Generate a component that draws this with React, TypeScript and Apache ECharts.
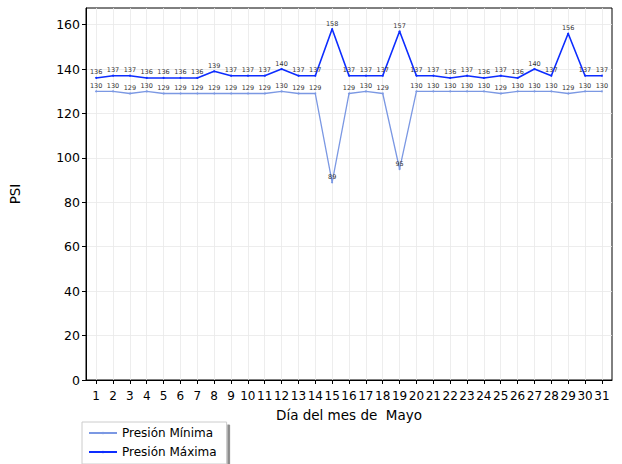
import React, { useEffect, useRef } from "react";
import * as echarts from "echarts";

const days = Array.from({ length: 31 }, (_, i) => i + 1);
const presionMaxima = [136, 137, 137, 136, 136, 136, 136, 139, 137, 137, 137, 140, 137, 137, 158, 137, 137, 137, 157, 137, 137, 136, 137, 136, 137, 136, 140, 137, 156, 137, 137];
const presionMinima = [130, 130, 129, 130, 129, 129, 129, 129, 129, 129, 129, 130, 129, 129, 89, 129, 130, 129, 95, 130, 130, 130, 130, 130, 129, 130, 130, 130, 129, 130, 130];
const yTicks = [0, 20, 40, 60, 80, 100, 120, 140, 160];

export default function App() {
  const ref = useRef<HTMLDivElement>(null);
  useEffect(() => {
    const chart = echarts.init(ref.current!, null, { renderer: "svg" });
    const font = "DejaVu Sans";
    const mk = (vals: number[]) => days.map((d, i) => [d, vals[i]]);
    const labelCfg = {
      show: true,
      position: "top" as const,
      distance: 1,
      fontSize: 6.5,
      color: "#333",
      fontFamily: font,
    };
    chart.setOption({
      animation: false,
      textStyle: { fontFamily: font },
      grid: { left: 86, right: 10, top: 8, bottom: 84, show: true, borderColor: "#000", borderWidth: 1, backgroundColor: "transparent" },
      xAxis: {
        type: "value",
        min: 0.4,
        max: 31.6,
        name: "Día del mes de  Mayo",
        nameLocation: "middle",
        nameGap: 28,
        nameTextStyle: { fontSize: 13.5, color: "#000", fontFamily: font },
        axisLine: { show: true, lineStyle: { color: "#000", width: 1 } },
        axisTick: { show: true, length: 4, inside: false, customValues: days, lineStyle: { color: "#000" } },
        axisLabel: { customValues: days, fontSize: 12, color: "#000", margin: 10, fontFamily: font, hideOverlap: false },
        splitLine: { show: true, lineStyle: { color: "#e8e8e8", width: 0.8 } },
      },
      yAxis: {
        type: "value",
        min: 0,
        max: 167.5,
        name: "PSI",
        nameLocation: "middle",
        nameGap: 64,
        nameRotate: 90,
        nameTextStyle: { fontSize: 13.5, color: "#000", fontFamily: font },
        axisLine: { show: true, lineStyle: { color: "#000", width: 1 } },
        axisTick: { show: true, length: 4, customValues: yTicks, lineStyle: { color: "#000" } },
        axisLabel: { customValues: yTicks, fontSize: 12.5, color: "#000", margin: 6, fontFamily: font },
        splitLine: { show: true, lineStyle: { color: "#e8e8e8", width: 0.8 } },
      },
      legend: {
        orient: "vertical",
        left: 82,
        top: 422,
        itemWidth: 28,
        itemHeight: 3,
        itemGap: 7,
        padding: [5, 10, 6, 6],
        backgroundColor: "#fff",
        borderColor: "#ccc",
        borderWidth: 1,
        borderRadius: 0,
        shadowColor: "rgba(0,0,0,0.45)",
        shadowOffsetX: 3,
        shadowOffsetY: 3,
        shadowBlur: 0,
        textStyle: { fontSize: 12, color: "#000", fontFamily: font },
        data: ["Presión Mínima", "Presión Máxima"],
      },
      series: [
        {
          name: "Presión Mínima",
          type: "line",
          data: mk(presionMinima),
          color: "#7b98e3",
          symbol: "circle",
          symbolSize: 2,
          lineStyle: { width: 1.3, color: "#7b98e3" },
          itemStyle: { color: "#7b98e3" },
          label: labelCfg,
          z: 2,
        },
        {
          name: "Presión Máxima",
          type: "line",
          data: mk(presionMaxima),
          color: "#0d2dff",
          symbol: "circle",
          symbolSize: 2,
          lineStyle: { width: 1.6, color: "#0d2dff" },
          itemStyle: { color: "#0d2dff" },
          label: labelCfg,
          z: 3,
        },
      ],
    });
    return () => chart.dispose();
  }, []);
  return <div ref={ref} style={{ width: 622, height: 464, position: "absolute", left: 0, top: 0, background: "#fff" }} />;
}
